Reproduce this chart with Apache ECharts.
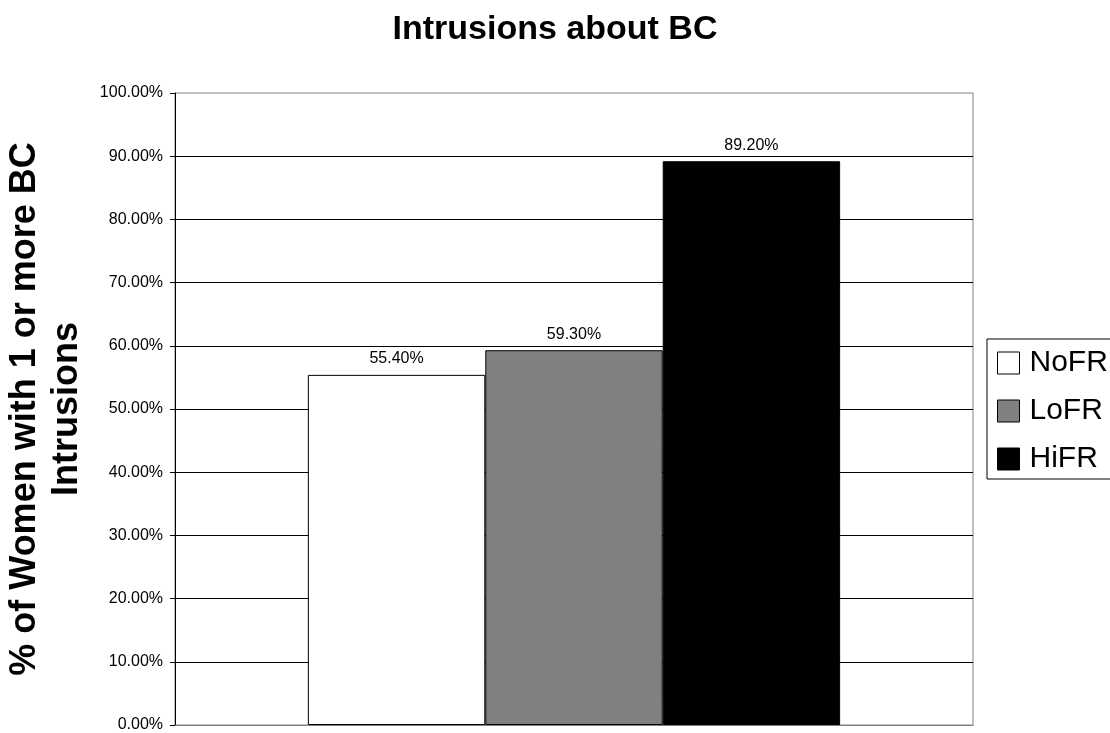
<!DOCTYPE html>
<html>
<head>
<meta charset="utf-8">
<script src="https://cdn.jsdelivr.net/npm/echarts@6/dist/echarts.min.js"></script>
<style>
  html, body { margin: 0; padding: 0; background: #fff; }
  #chart { width: 1110px; height: 733px; }
</style>
</head>
<body>
<div id="chart"></div>
<script>
// Share of women reporting one or more BC intrusions, by group
const categories = [''];
const seriesNames = ['NoFR', 'LoFR', 'HiFR'];
const seriesValues = [[55.4], [59.3], [89.2]];
const seriesColors = ['#ffffff', '#808080', '#000000'];
const yTicks = { min: 0, max: 100, interval: 10 };

const FONT = '"Liberation Sans", Arial, sans-serif';
const pct = v => Number(v).toFixed(2) + '%';

const chart = echarts.init(document.getElementById('chart'), null, { renderer: 'canvas' });

const series = seriesNames.map((name, i) => ({
  name,
  type: 'bar',
  data: seriesValues[i],
  barGap: '0%',
  barCategoryGap: '33.3%',
  itemStyle: { color: seriesColors[i], borderColor: '#000', borderWidth: 1 },
  label: {
    show: true,
    position: 'top',
    distance: 8,
    color: '#000',
    fontFamily: FONT,
    fontSize: 16,
    formatter: p => pct(p.value)
  },
  emphasis: { disabled: true }
}));

chart.setOption({
  animation: false,
  backgroundColor: '#fff',
  title: {
    text: 'Intrusions about BC',
    left: 'center',
    top: 8,
    textStyle: { fontFamily: FONT, fontSize: 34, fontWeight: 'bold', color: '#000' }
  },
  legend: {
    orient: 'vertical',
    left: 987,
    top: 339,
    padding: [9, 30, 5, 10],
    itemGap: 18,
    itemWidth: 22,
    itemHeight: 22,
    borderColor: '#000',
    borderWidth: 1,
    icon: 'rect',
    selectedMode: false,
    textStyle: { fontFamily: FONT, fontSize: 30, color: '#000', lineHeight: 30, padding: [0, 0, 0, 5] },
    data: seriesNames.map((n, i) => ({
      name: n,
      itemStyle: { color: seriesColors[i], borderColor: '#000', borderWidth: 1 }
    }))
  },
  grid: {
    left: 175,
    top: 93,
    right: 137,
    bottom: 8,
    outerBoundsMode: 'none',
    containLabel: false,
    show: true,
    borderColor: '#808080',
    borderWidth: 1,
    backgroundColor: 'transparent'
  },
  xAxis: {
    type: 'category',
    data: categories,
    axisLine: { lineStyle: { color: '#808080' } },
    axisTick: { show: false },
    axisLabel: { show: false }
  },
  yAxis: {
    type: 'value',
    min: yTicks.min,
    max: yTicks.max,
    interval: yTicks.interval,
    name: '% of Women with 1 or more BC\nIntrusions',
    nameLocation: 'middle',
    nameRotate: 90,
    nameGap: 87,
    nameTextStyle: { fontFamily: FONT, fontSize: 36, fontWeight: 'bold', color: '#000', lineHeight: 42, align: 'center' },
    axisLine: { show: true, lineStyle: { color: '#000' } },
    axisTick: { show: true, length: 5, lineStyle: { color: '#000' } },
    axisLabel: { margin: 12, fontFamily: FONT, fontSize: 16, color: '#000', formatter: v => pct(v) },
    splitLine: { show: true, showMaxLine: false, lineStyle: { color: '#000', width: 1 } }
  },
  series
});
</script>
</body>
</html>
